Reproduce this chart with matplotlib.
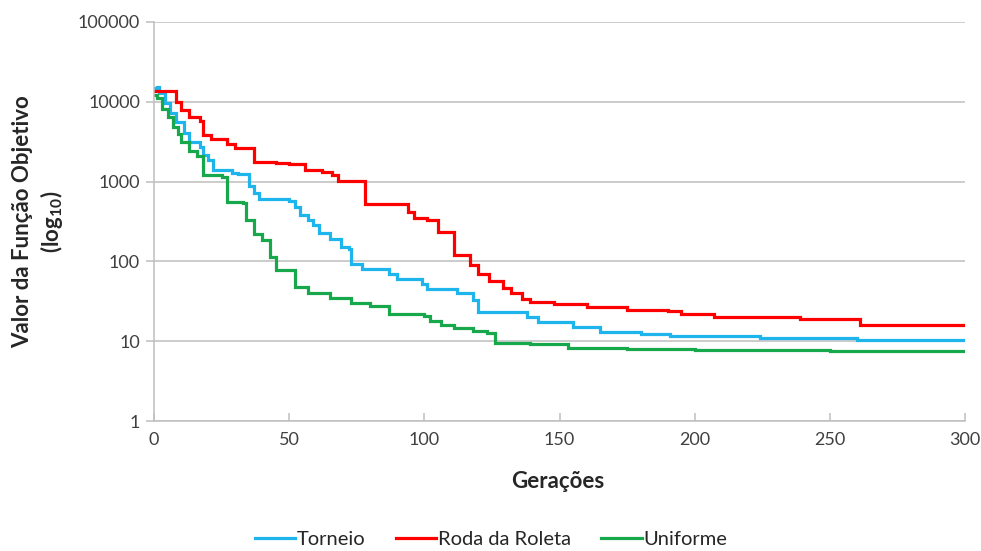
import matplotlib
matplotlib.use("Agg")
import matplotlib.pyplot as plt
from matplotlib.ticker import FixedLocator, NullLocator

plt.rcParams['font.family'] = ['Lato', 'DejaVu Sans']
plt.rcParams['mathtext.fontset'] = 'custom'
plt.rcParams['mathtext.bf'] = 'Lato:bold'
plt.rcParams['mathtext.rm'] = 'Lato'

series_names = ["Torneio", "Roda da Roleta", "Uniforme"]
colors = ["#1EB4EC", "#FF0000", "#17A84B"]

# Torneio breakpoints (generation, value)
torneio_gen = [0, 1, 2, 4, 6, 8, 11, 13, 17, 18, 20, 22, 29, 31, 35, 37, 39, 50, 52, 54, 57, 59,
               61, 65, 69, 72, 73, 77, 87, 90, 99, 101, 112, 118, 120, 138, 142, 155, 165,
               180, 191, 224, 260, 300]
torneio_val = [15000, 15500, 13000, 9800, 7200, 5600, 4050, 3150, 2750, 2150, 1870, 1400, 1300,
               1250, 870, 720, 600, 570, 480, 380, 330, 290, 230, 190, 150, 145, 92, 80, 70,
               60, 52, 45, 40, 33, 23, 20, 17.3, 15.1, 13.1, 12.2, 11.6, 11.0, 10.5, 10.5]

# Roda da Roleta breakpoints
roleta_gen = [0, 8, 10, 13, 17, 18, 21, 27, 30, 37, 45, 50, 56, 62, 66, 68, 78, 94, 96, 101,
              105, 111, 117, 120, 124, 129, 132, 136, 139, 148, 160, 175, 190, 195, 207, 239,
              261, 300]
roleta_val = [13500, 10000, 8000, 6500, 5800, 3800, 3400, 3000, 2600, 1750, 1700, 1650, 1400,
              1320, 1200, 1020, 520, 420, 350, 330, 235, 120, 90, 70, 56, 46, 40, 34, 31, 29,
              27, 24.5, 24, 21.8, 20, 19, 16, 16]

# Uniforme breakpoints
uniforme_gen = [0, 1, 3, 5, 7, 9, 10, 13, 16, 18, 25, 27, 33, 34, 37, 40, 43, 45, 52, 57,
                65, 73, 80, 87, 100, 102, 106, 111, 118, 123, 126, 139, 153, 175, 200,
                250, 300]
uniforme_val = [12000, 11000, 8200, 6500, 4900, 4000, 3150, 2400, 2100, 1200, 1150, 560, 540,
                330, 220, 185, 115, 78, 48, 40, 35, 30, 28, 22, 20.5, 18, 16, 14.6, 13.5,
                12.5, 9.5, 9.1, 8.3, 7.9, 7.7, 7.6, 7.5]

x_ticks = [0, 50, 100, 150, 200, 250, 300]
y_ticks = [1, 10, 100, 1000, 10000, 100000]
y_tick_labels = ["1", "10", "100", "1000", "10000", "100000"]

fig = plt.figure(figsize=(9.81, 5.51), dpi=100)
ax = fig.add_axes([154 / 981, 1 - 421 / 551, (965 - 154) / 981, (421 - 22) / 551])

for name, color, g, v in [
    (series_names[0], colors[0], torneio_gen, torneio_val),
    (series_names[1], colors[1], roleta_gen, roleta_val),
    (series_names[2], colors[2], uniforme_gen, uniforme_val),
]:
    ax.plot(g, v, drawstyle="steps-post", color=color, lw=2.3, label=name,
            solid_joinstyle="miter")

ax.set_yscale("log")
ax.set_ylim(1, 100000)
ax.set_xlim(0, 300)
ax.yaxis.set_major_locator(FixedLocator(y_ticks))
ax.yaxis.set_minor_locator(NullLocator())
ax.set_yticklabels(y_tick_labels)
ax.set_xticks(x_ticks)
ax.set_xticklabels([str(t) for t in x_ticks])

ax.grid(axis="y", color="#BFBFBF", lw=1.1)
ax.set_axisbelow(True)
for s in ["top", "right"]:
    ax.spines[s].set_visible(False)
for s in ["left", "bottom"]:
    ax.spines[s].set_color("#BFBFBF")
    ax.spines[s].set_linewidth(1.1)

ax.tick_params(axis="y", direction="out", length=6, color="#BFBFBF", width=1.1,
               labelsize=13, labelcolor="#404040", pad=4)
ax.tick_params(axis="x", direction="in", length=6, color="#BFBFBF", width=1.1,
               labelsize=13, labelcolor="#404040", pad=8)

fig.text(558 / 981, 1 - 481 / 551, "Gerações", ha="center", va="center",
         fontsize=16, fontweight="bold", color="#262626")
ax.text(-0.162, 0.5, "Valor da Função Objetivo", transform=ax.transAxes, rotation=90,
        ha="center", va="center", fontsize=16, fontweight="bold", color="#262626")
ax.text(-0.126, 0.5, r"(log$_{\mathbf{10}}$)", transform=ax.transAxes, rotation=90,
        ha="center", va="center", fontsize=16, fontweight="bold", color="#262626")

leg = fig.legend(loc="center", bbox_to_anchor=(491 / 981, 1 - 539 / 551), ncol=3,
                 frameon=False, fontsize=14.5, handlelength=2.0, handletextpad=0.1,
                 columnspacing=1.5, borderpad=0.1)
for t in leg.get_texts():
    t.set_color("#262626")

fig.savefig("out.png", dpi=100)
